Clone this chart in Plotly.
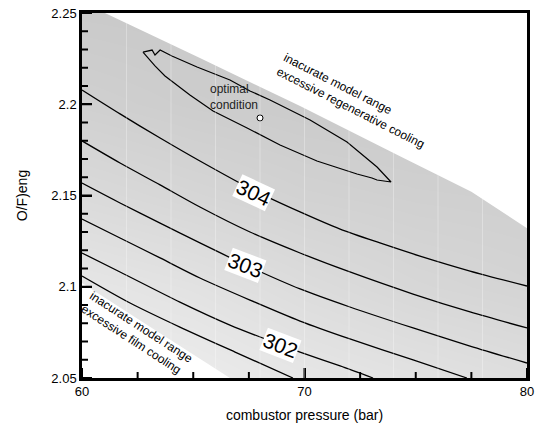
import plotly.graph_objects as go

# ---------------- data ----------------
# contour lines (combustor pressure [bar], O/F)eng)
c304_x = [60.0, 61.71, 63.51, 65.30, 67.69, 69.80, 71.60, 73.39, 75.19, 77.44, 80.0]
c304_y = [2.2078, 2.1947, 2.1815, 2.1689, 2.1530, 2.1410, 2.1316, 2.1240, 2.1168, 2.1086, 2.1004]

c3035_x = [60.0, 61.71, 63.51, 65.30, 67.55, 69.80, 72.04, 74.88, 77.44, 80.0]
c3035_y = [2.1799, 2.1678, 2.1558, 2.1437, 2.1300, 2.1185, 2.1081, 2.0960, 2.0862, 2.0774]

c303_x = [60.0, 61.71, 63.51, 65.30, 67.55, 69.80, 72.04, 74.88, 77.44, 80.0]
c303_y = [2.1568, 2.1459, 2.1349, 2.1240, 2.1108, 2.0988, 2.0889, 2.0774, 2.0675, 2.0582]

c3025_x = [60.0, 61.71, 63.51, 65.30, 67.55, 69.80, 72.04, 74.88, 77.30]
c3025_y = [2.1371, 2.1267, 2.1158, 2.1048, 2.0927, 2.0812, 2.0714, 2.0599, 2.0500]

c302_x = [60.0, 61.71, 64.40, 66.65, 68.94, 69.80, 71.60, 73.08]
c302_y = [2.1185, 2.1081, 2.0916, 2.0790, 2.0681, 2.0642, 2.0566, 2.0500]

c3015_x = [60.0, 62.16, 64.40, 66.88, 69.48]
c3015_y = [2.1059, 2.0911, 2.0779, 2.0642, 2.0500]

# closed contour around the optimum
loop_x = [62.74, 63.15, 63.28, 63.51, 64.04, 65.17, 66.65, 67.55, 68.45, 70.25, 71.91, 73.26, 73.89,
          73.26, 73.03, 72.36, 70.56, 68.90, 67.42, 65.89, 64.85, 63.73, 63.28, 63.06, 62.74]
loop_y = [2.2286, 2.2297, 2.2270, 2.2297, 2.2264, 2.2204, 2.2133, 2.2073, 2.2023, 2.1914, 2.1793, 2.1656, 2.1574,
          2.1585, 2.1596, 2.1618, 2.1689, 2.1777, 2.1870, 2.1963, 2.2051, 2.2155, 2.2210, 2.2242, 2.2286]

# optimal point
opt_x = [68.0]
opt_y = [2.1925]

# limits of the valid model range
upper_x = [61.03, 65.30, 69.80, 74.27, 77.50, 80.0]
upper_y = [2.2500, 2.2253, 2.1990, 2.1716, 2.1520, 2.1321]
lower_x = [60.0, 63.28, 66.65]
lower_y = [2.1021, 2.0763, 2.0500]

# flood shading (grey level 0-255) sampled on a coarse grid
shade_x = [60, 65, 70, 75, 80]
shade_y = [2.05, 2.10, 2.15, 2.20, 2.25]
shade_z = [
    [238, 236, 230, 226, 222],
    [230, 226, 220, 215, 212],
    [218, 214, 210, 208, 207],
    [208, 205, 203, 202, 202],
    [202, 201, 200, 200, 200],
]

# faint vertical mesh lines of the flood
mesh_x = [62, 64, 66, 68, 70, 72, 74, 76, 78]

labels_text = ["304", "303", "302"]
labels_x = [67.69, 67.37, 68.94]
labels_y = [2.1514, 2.1119, 2.0680]
labels_angle = [25, 21, 21]

x_ticks = [60, 70, 80]
x_minor = [62.5, 65, 67.5, 72.5, 75, 77.5]
y_ticks = [2.05, 2.10, 2.15, 2.20, 2.25]
y_ticktext = ["2.05", "2.1", "2.15", "2.2", "2.25"]
y_minor = [2.06, 2.07, 2.08, 2.09, 2.11, 2.12, 2.13, 2.14, 2.16, 2.17, 2.18, 2.19,
           2.21, 2.22, 2.23, 2.24]

FONT = "Liberation Sans, Arial, sans-serif"
X_RANGE = [60, 80]
Y_RANGE = [2.05, 2.25]
W, H = 538, 427
M = dict(l=82, r=11, t=13, b=49)

# pixel -> data conversion for the inward tick marks
px_x = (X_RANGE[1] - X_RANGE[0]) / (W - M["l"] - M["r"])
px_y = (Y_RANGE[1] - Y_RANGE[0]) / (H - M["t"] - M["b"])
MAJ, MIN = 10, 6

fig = go.Figure()

fig.add_trace(go.Heatmap(
    x=shade_x, y=shade_y, z=shade_z, zsmooth="best",
    colorscale=[[0, "black"], [1, "white"]], zmin=0, zmax=255,
    showscale=False, hoverinfo="skip"))

# white masks outside the valid range
fig.add_trace(go.Scatter(
    x=upper_x + [80.6, 80.6, upper_x[0]],
    y=upper_y + [upper_y[-1], 2.26, 2.26],
    fill="toself", fillcolor="white", mode="none", hoverinfo="skip", showlegend=False))
fig.add_trace(go.Scatter(
    x=[59.4] + lower_x + [lower_x[-1], 59.4],
    y=[lower_y[0]] + lower_y + [2.04, 2.04],
    fill="toself", fillcolor="white", mode="none", hoverinfo="skip", showlegend=False))

line_style = dict(color="black", width=1.3, shape="spline", smoothing=0.8)
for xs, ys in [(c304_x, c304_y), (c3035_x, c3035_y), (c303_x, c303_y),
               (c3025_x, c3025_y), (c302_x, c302_y), (c3015_x, c3015_y)]:
    fig.add_trace(go.Scatter(x=xs, y=ys, mode="lines", line=line_style,
                             hoverinfo="skip", showlegend=False))

fig.add_trace(go.Scatter(x=loop_x, y=loop_y, mode="lines",
                         line=dict(color="black", width=1.2),
                         hoverinfo="skip", showlegend=False))

fig.add_trace(go.Scatter(x=opt_x, y=opt_y, mode="markers",
                         marker=dict(symbol="circle", size=6, color="white",
                                     line=dict(color="black", width=1)),
                         hoverinfo="skip", showlegend=False))

# inward tick marks built from the tick arrays
tx, ty = [], []
for v, ln in [(v, MAJ) for v in x_ticks] + [(v, MIN) for v in x_minor]:
    tx += [v, v, None]
    ty += [Y_RANGE[0], Y_RANGE[0] + ln * px_y, None]
for v, ln in [(v, MAJ) for v in y_ticks] + [(v, MIN) for v in y_minor]:
    tx += [X_RANGE[0], X_RANGE[0] + ln * px_x, None]
    ty += [v, v, None]
fig.add_trace(go.Scatter(x=tx, y=ty, mode="lines", line=dict(color="black", width=2),
                         hoverinfo="skip", showlegend=False))

# faint mesh lines
for mx in mesh_x:
    fig.add_shape(type="line", xref="x", yref="y", x0=mx, x1=mx, y0=2.05, y1=2.25,
                  line=dict(color="white", width=1), opacity=0.3, layer="above")

for t, xx, yy, a in zip(labels_text, labels_x, labels_y, labels_angle):
    fig.add_annotation(x=xx, y=yy, text=t, textangle=a, showarrow=False,
                       bgcolor="white", borderpad=0,
                       font=dict(family=FONT, size=21, color="black"))

fig.add_annotation(x=66.83, y=2.204, text="optimal<br>condition", showarrow=False,
                   align="left", font=dict(family=FONT, size=12, color="#222"))
fig.add_annotation(x=72.22, y=2.2018,
                   text="inacurate model range<br>excessive regenerative cooling",
                   showarrow=False, align="left", textangle=27,
                   font=dict(family=FONT, size=12, color="black"))
fig.add_annotation(x=62.47, y=2.0741,
                   text="inacurate model range<br>excessive film cooling",
                   showarrow=False, align="left", textangle=33,
                   font=dict(family=FONT, size=12, color="black"))

fig.update_xaxes(range=X_RANGE, tickvals=x_ticks, ticks="inside", ticklen=MAJ, tickwidth=2,
                 tickcolor="black", showline=True, linecolor="black", linewidth=2.5, mirror=True,
                 automargin=False, ticklabeloverflow="allow", showgrid=False, zeroline=False,
                 tickfont=dict(family=FONT, size=13, color="black"),
                 title=dict(text="combustor pressure (bar)", standoff=12,
                            font=dict(family=FONT, size=14, color="black")))
fig.update_yaxes(range=Y_RANGE, tickvals=y_ticks, ticktext=y_ticktext, ticks="inside",
                 ticklen=MAJ, tickwidth=2, tickcolor="black", showline=True, linecolor="black",
                 linewidth=2.5, mirror=True, automargin=False, ticklabeloverflow="allow",
                 showgrid=False, zeroline=False,
                 tickfont=dict(family=FONT, size=13, color="black"),
                 title=dict(text="O/F)eng", standoff=21,
                            font=dict(family=FONT, size=14, color="black")))

fig.update_layout(width=W, height=H, margin=M,
                  paper_bgcolor="white", plot_bgcolor="white", showlegend=False)

fig.write_html("out.html", config={"displayModeBar": False},
               post_script="document.body.style.margin='0px';")
